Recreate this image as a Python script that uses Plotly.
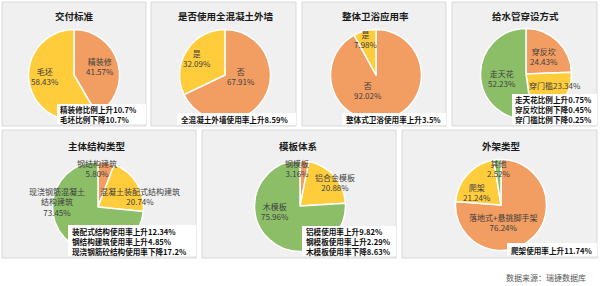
import plotly.graph_objects as go

W, H = 600, 286
FONT = "Noto Sans CJK SC"

# ---- data ----
titles = ["交付标准", "是否使用全混凝土外墙", "整体卫浴应用率", "给水管穿设方式",
          "主体结构类型", "模板体系", "外架类型"]

p1_labels = ["精装修", "毛坯"]
p1_values = [41.57, 58.43]
p2_labels = ["否", "是"]
p2_values = [67.91, 32.09]
p3_labels = ["否", "是"]
p3_values = [92.02, 7.98]
p4_labels = ["穿反坎", "穿门槛", "走天花"]
p4_values = [24.43, 23.34, 52.23]
p5_labels = ["钢结构建筑", "混凝土装配式结构建筑", "现浇钢筋混凝土结构建筑"]
p5_values = [5.80, 20.74, 73.45]
p6_labels = ["钢模板", "铝合金模板", "木模板"]
p6_values = [3.16, 20.88, 75.96]
p7_labels = ["落地式+悬挑脚手架", "爬架", "其他"]
p7_values = [76.24, 21.24, 2.52]

notes = [
    ["精装修比例上升10.7%", "毛坯比例下降10.7%"],
    ["全混凝土外墙使用率上升8.59%"],
    ["整体式卫浴使用率上升3.5%"],
    ["走天花比例上升0.75%", "穿反坎比例下降0.45%", "穿门槛比例下降0.25%"],
    ["装配式结构使用率上升12.34%", "钢结构建筑使用率上升4.85%", "现浇钢筋砼结构使用率下降17.2%"],
    ["铝模使用率上升9.82%", "钢模板使用率上升2.29%", "木模板使用率下降8.63%"],
    ["爬架使用率上升11.74%"],
]
source = "数据来源：瑞捷数据库"

ORANGE, YELLOW, GREEN = "#F29D62", "#FFCD3C", "#8CBE68"

# ---- layout helpers ----
def px(x):
    return x / W

def py(y):
    return 1 - y / H

fig = go.Figure()
shapes = []
annotations = []

panels = [(2, 2, 146, 126), (151, 2, 296, 126), (302, 2, 446, 126), (452, 2, 597, 126),
          (2, 130, 196, 258), (202, 130, 396, 258), (402, 130, 597, 258)]
for (x0, y0, x1, y1) in panels:
    shapes.append(dict(type="rect", xref="paper", yref="paper", layer="below",
                       x0=px(x0), x1=px(x1), y0=py(y1), y1=py(y0),
                       fillcolor="#F0F0F0", line=dict(color="#D9D9D9", width=1)))

title_pos = [(74, 16), (226, 16), (375, 16), (525, 16), (97, 146), (298, 146), (501, 146)]
for t, (x, y) in zip(titles, title_pos):
    annotations.append(dict(text="<b>" + t + "</b>", x=px(x), y=py(y), xref="paper", yref="paper",
                            showarrow=False, xanchor="center", yanchor="middle",
                            font=dict(family=FONT, size=9.5, color="#1a1a1a")))

pies = [
    (p1_labels, p1_values, [ORANGE, YELLOW], (74, 75)),
    (p2_labels, p2_values, [ORANGE, YELLOW], (225, 75)),
    (p3_labels, p3_values, [ORANGE, YELLOW], (376, 75)),
    (p4_labels, p4_values, [ORANGE, YELLOW, GREEN], (526, 74)),
    (p5_labels, p5_values, [ORANGE, YELLOW, GREEN], (98, 207)),
    (p6_labels, p6_values, [ORANGE, YELLOW, GREEN], (300, 206)),
    (p7_labels, p7_values, [ORANGE, YELLOW, GREEN], (501, 205)),
]
R = 45.5
for labels, values, colors, (cx, cy) in pies:
    fig.add_trace(go.Pie(labels=labels, values=values, sort=False, direction="clockwise",
                         rotation=0, textinfo="none", hoverinfo="label+percent",
                         marker=dict(colors=colors, line=dict(color="white", width=1.5)),
                         domain=dict(x=[px(cx - R), px(cx + R)], y=[py(cy + R), py(cy - R)]),
                         showlegend=False))

def fmt(v):
    return f"{v:.2f}%"

# slice label positions (px) : (x, y, text)
slice_labels = [
    (100, 66, p1_labels[0] + "<br>" + fmt(p1_values[0])),
    (45, 76, p1_labels[1] + "<br>" + fmt(p1_values[1])),
    (241, 77, p2_labels[0] + "<br>" + fmt(p2_values[0])),
    (197, 59, p2_labels[1] + "<br>" + fmt(p2_values[1])),
    (368, 91, p3_labels[0] + "<br>" + fmt(p3_values[0])),
    (366, 39, p3_labels[1] + "<br>" + fmt(p3_values[1])),
    (544, 56, p4_labels[0] + "<br>" + fmt(p4_values[0])),
    (555, 85, p4_labels[1] + fmt(p4_values[1])),
    (502, 78, p4_labels[2] + "<br>" + fmt(p4_values[2])),
    (97, 168, p5_labels[0] + "<br>" + fmt(p5_values[0])),
    (140, 196, p5_labels[1] + "<br>" + fmt(p5_values[1])),
    (57, 202, "现浇钢筋混凝土<br>结构建筑<br>" + fmt(p5_values[2])),
    (297, 168, p6_labels[0] + "<br>" + fmt(p6_values[0])),
    (335, 182, p6_labels[1] + "<br>" + fmt(p6_values[1])),
    (275, 211, p6_labels[2] + "<br>" + fmt(p6_values[2])),
    (503, 222, p7_labels[0] + "<br>" + fmt(p7_values[0])),
    (477, 192, p7_labels[1] + "<br>" + fmt(p7_values[1])),
    (499, 168, p7_labels[2] + "<br>" + fmt(p7_values[2])),
]
for x, y, t in slice_labels:
    annotations.append(dict(text=t, x=px(x), y=py(y), xref="paper", yref="paper",
                            showarrow=False, xanchor="center", yanchor="middle", align="center",
                            font=dict(family=FONT, size=8, color="#404040")))

# note boxes: (x0, y0, x1, y1, text-left)
boxes = [
    (57, 104, 146, 124, 59),
    (177, 113, 296, 125, 180),
    (342, 113, 446, 125, 345),
    (512, 94, 597, 125, 514),
    (68, 225, 196, 256, 71),
    (302, 226, 396, 256, 305),
    (507, 243, 597, 256, 510),
]
for (x0, y0, x1, y1, tx), lines in zip(boxes, notes):
    shapes.append(dict(type="rect", xref="paper", yref="paper", layer="above",
                       x0=px(x0), x1=px(x1), y0=py(y1), y1=py(y0),
                       fillcolor="white", line=dict(width=0)))
    annotations.append(dict(text="<br>".join("<b>" + l + "</b>" for l in lines),
                            x=px(tx), y=py((y0 + y1) / 2 + 0.5), xref="paper", yref="paper",
                            showarrow=False, xanchor="left", yanchor="middle", align="left",
                            borderpad=0,
                            font=dict(family=FONT, size=7.6, color="#111111")))

annotations.append(dict(text=source, x=px(546), y=py(277), xref="paper", yref="paper",
                        showarrow=False, xanchor="center", yanchor="middle",
                        font=dict(family=FONT, size=8, color="#595959")))

fig.update_layout(width=W, height=H, margin=dict(l=0, r=0, t=0, b=0),
                  paper_bgcolor="white", plot_bgcolor="white",
                  shapes=shapes, annotations=annotations, showlegend=False)

fig.write_html("out.html")
